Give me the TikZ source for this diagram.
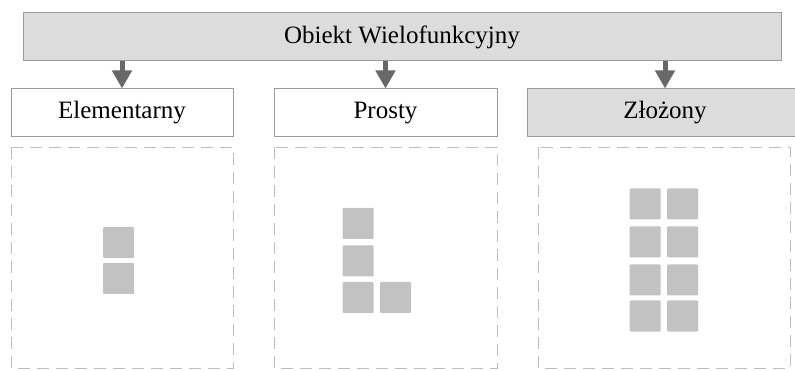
\documentclass[tikz,border=0pt]{standalone}
\usepackage{fontspec}
\setmainfont{Liberation Serif}
\usetikzlibrary{arrows.meta}
\definecolor{hdrfill}{HTML}{DCDCDC}
\definecolor{hdrline}{HTML}{9A9A9A}
\definecolor{arrowc}{HTML}{686868}
\definecolor{sqfill}{HTML}{C2C2C2}
\definecolor{dashc}{HTML}{BDBDBD}
\begin{document}
\begin{tikzpicture}[x=1pt,y=-1pt,
  hdr/.style={draw=hdrline,line width=1pt,fill=hdrfill,minimum height=48pt,inner sep=0pt,font=\fontsize{25}{29}\selectfont},
  cat/.style={draw=hdrline,line width=1pt,fill=white,minimum height=48pt,inner sep=0pt,font=\fontsize{25}{29}\selectfont},
  catg/.style={cat,fill=hdrfill},
  area/.style={draw=dashc,line width=0.9pt,dash pattern=on 12pt off 7pt},
  sq/.style={fill=sqfill,minimum size=31pt,inner sep=0pt,rounded corners=1pt},
  conn/.style={draw=arrowc,line width=5pt,-{Triangle[width=19pt,length=18pt]},color=arrowc}]
\useasboundingbox (0,0) rectangle (795,371);
\clip (0,0) rectangle (795,371);
% header
\node[hdr,minimum width=758pt] (top) at (402,37) {Obiekt Wielofunkcyjny};
\node[cat,minimum width=222pt] (elem) at (122,113) {Elementarny};
\node[cat,minimum width=223pt] (prosty) at (385.5,113) {Prosty};
\node[catg,minimum width=276pt] (zloz) at (665,113) {Złożony};
% arrows
\draw[conn] (top.south -| elem) -- (elem.north);
\draw[conn] (top.south -| prosty) -- (prosty.north);
\draw[conn] (top.south -| zloz) -- (zloz.north);
% dashed areas
\draw[area] (11,147) rectangle (233,368);
\draw[area] (274,147) rectangle (497,368);
\draw[area] (538,147) rectangle (790,368);
% elementarny squares
\node[sq] (e1) at (118.5,242.5) {};
\node[sq] (e2) at (118.5,278.5) {};
% prosty squares
\node[sq] (p1) at (358,223.5) {};
\node[sq] (p2) at (358,261) {};
\node[sq] (p3) at (358,297.5) {};
\node[sq] (p4) at (395.5,297.5) {};
% zlozony squares
\foreach \r/\yy in {1/204,2/242,3/280,4/316}{
  \node[sq] (zl\r) at (645,\yy) {};
  \node[sq] (zr\r) at (682.5,\yy) {};
}
\end{tikzpicture}
\end{document}
